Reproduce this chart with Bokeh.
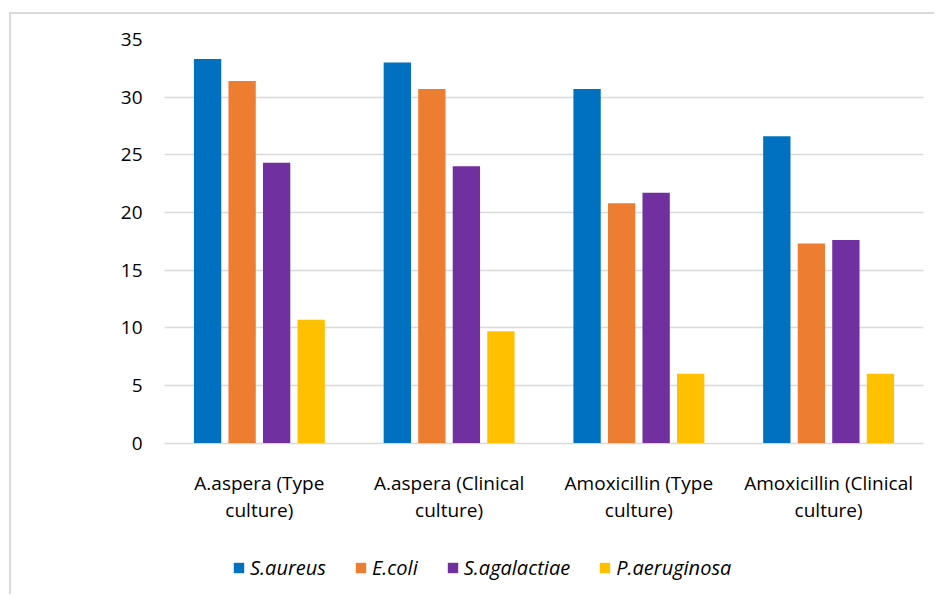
from bokeh.plotting import figure
from bokeh.models import ColumnDataSource, FactorRange, Range1d, FixedTicker, Legend, LegendItem
from bokeh.core.properties import value
from bokeh.transform import dodge
from bokeh.embed import file_html
from bokeh.resources import INLINE

categories = ["A.aspera (Type culture)", "A.aspera (Clinical culture)",
              "Amoxicillin (Type culture)", "Amoxicillin (Clinical culture)"]
label_line1 = ["A.aspera (Type", "A.aspera (Clinical", "Amoxicillin (Type", "Amoxicillin (Clinical"]
label_line2 = ["culture)", "culture)", "culture)", "culture)"]
series_names = ["S.aureus", "E.coli", "S.agalactiae", "P.aeruginosa"]
s_aureus = [33.3, 33.0, 30.7, 26.6]
e_coli = [31.4, 30.7, 20.8, 17.3]
s_agalactiae = [24.3, 24.0, 21.7, 17.6]
p_aeruginosa = [10.7, 9.7, 6.0, 6.0]
y_ticks = [0, 5, 10, 15, 20, 25, 30, 35]
colors = ["#0070C0", "#ED7D31", "#7030A0", "#FFC000"]

FONT = "Open Sans"

source = ColumnDataSource(dict(cat=categories, s0=s_aureus, s1=e_coli, s2=s_agalactiae, s3=p_aeruginosa,
                               l1=label_line1, l2=label_line2))

W, H = 925, 582
# frame extends below the zero line so that category labels and legend sit inside it
p = figure(x_range=FactorRange(*categories), y_range=Range1d(-13.31, 35),
           width=W, height=H, output_backend="svg", toolbar_location=None,
           min_border_left=153, min_border_right=13, min_border_top=25, min_border_bottom=0,
           margin=(12, 0, 0, 9),
           styles={"border-left": "2px solid #d9d9d9", "border-top": "2px solid #d9d9d9"})

offsets = [-0.273, -0.091, 0.091, 0.273]
renderers = []
for i, off in enumerate(offsets):
    r = p.vbar(x=dodge("cat", off, range=p.x_range), top="s%d" % i, width=0.144,
               source=source, fill_color=colors[i], line_color=None)
    renderers.append(r)

# category labels (two lines each) under the zero line
p.text(x="cat", y=-3.43, text="l1", source=source, text_font=value(FONT), text_font_size="19px",
       text_align="center", text_baseline="middle", text_color="#000000")
p.text(x="cat", y=-5.80, text="l2", source=source, text_font=value(FONT), text_font_size="19px",
       text_align="center", text_baseline="middle", text_color="#000000")

p.outline_line_color = None
p.xgrid.grid_line_color = None
p.ygrid.grid_line_color = "#d9d9d9"
p.ygrid.grid_line_width = 1.5
p.yaxis.ticker = FixedTicker(ticks=y_ticks)
p.xaxis.visible = False

p.yaxis.axis_line_color = None
p.yaxis.major_tick_line_color = None
p.yaxis.minor_tick_line_color = None
p.yaxis.major_label_text_font = FONT
p.yaxis.major_label_text_color = "#000000"
p.yaxis.major_label_text_font_size = "19px"
p.yaxis.major_label_standoff = 16

legend = Legend(items=[LegendItem(label=n, renderers=[r]) for n, r in zip(series_names, renderers)],
                orientation="horizontal", location=(68, 15),
                label_text_font=FONT, label_text_font_size="20px", label_text_font_style="italic",
                label_text_color="#000000", glyph_width=13, glyph_height=13,
                label_standoff=5, spacing=28, border_line_color=None, background_fill_alpha=0,
                margin=0, padding=0)
p.add_layout(legend)

open("out.html", "w").write(file_html(p, INLINE))
